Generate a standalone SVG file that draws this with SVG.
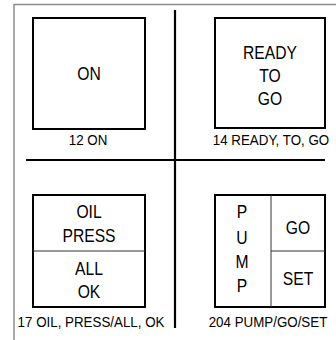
<svg xmlns="http://www.w3.org/2000/svg" width="336" height="340" viewBox="0 0 336 340">
<style>
  .box{fill:#fff;stroke:#000;stroke-width:2}
  .div{stroke:#333;stroke-width:1;fill:none}
  .cross{stroke:#000;stroke-width:2.2;fill:none}
  .frame{stroke:#8c8c8c;stroke-width:1.5;fill:none}
  .t{font-family:"Liberation Sans",Arial,sans-serif;font-size:18px;fill:#000;text-anchor:middle}
  .l{font-family:"Liberation Sans",Arial,sans-serif;font-size:15px;fill:#000;text-anchor:middle}
</style>
<rect width="336" height="340" fill="#fff"/>
<path class="frame" d="M14,340 V4.5 H336"/>
<g id="connectors">
  <line class="cross" x1="175" y1="10" x2="175" y2="328"/>
  <line class="cross" x1="26" y1="160" x2="325" y2="160"/>
</g>
<g id="node-12">
  <rect class="box" x="33" y="18" width="112" height="111"/>
  <text class="t" transform="translate(89,80) scale(0.87,1)">ON</text>
  <text class="l" transform="translate(88,145) scale(0.89,1)">12 ON</text>
</g>
<g id="node-14">
  <rect class="box" x="215" y="18" width="110" height="110"/>
  <text class="t" transform="translate(270,59) scale(0.87,1)">READY</text>
  <text class="t" transform="translate(270,82) scale(0.87,1)">TO</text>
  <text class="t" transform="translate(270,105) scale(0.87,1)">GO</text>
  <text class="l" transform="translate(271,145) scale(0.89,1)">14 READY, TO, GO</text>
</g>
<g id="node-17">
  <rect class="box" x="33" y="195" width="112" height="112"/>
  <line class="div" x1="33" y1="251" x2="145" y2="251"/>
  <text class="t" transform="translate(89,218) scale(0.87,1)">OIL</text>
  <text class="t" transform="translate(89,241.5) scale(0.87,1)">PRESS</text>
  <text class="t" transform="translate(89,274.5) scale(0.87,1)">ALL</text>
  <text class="t" transform="translate(89,297.5) scale(0.87,1)">OK</text>
  <text class="l" transform="translate(91,327) scale(0.89,1)">17 OIL, PRESS/ALL, OK</text>
</g>
<g id="node-204">
  <rect class="box" x="215" y="195" width="110" height="112"/>
  <line class="div" x1="271" y1="195" x2="271" y2="307"/>
  <line class="div" x1="271" y1="251" x2="325" y2="251"/>
  <text class="t" transform="translate(242,218) scale(0.87,1)">P</text>
  <text class="t" transform="translate(242,244) scale(0.87,1)">U</text>
  <text class="t" transform="translate(242,268) scale(0.87,1)">M</text>
  <text class="t" transform="translate(242,292) scale(0.87,1)">P</text>
  <text class="t" transform="translate(298,234) scale(0.87,1)">GO</text>
  <text class="t" transform="translate(298,285) scale(0.87,1)">SET</text>
  <text class="l" transform="translate(268,327) scale(0.89,1)">204 PUMP/GO/SET</text>
</g>
</svg>
